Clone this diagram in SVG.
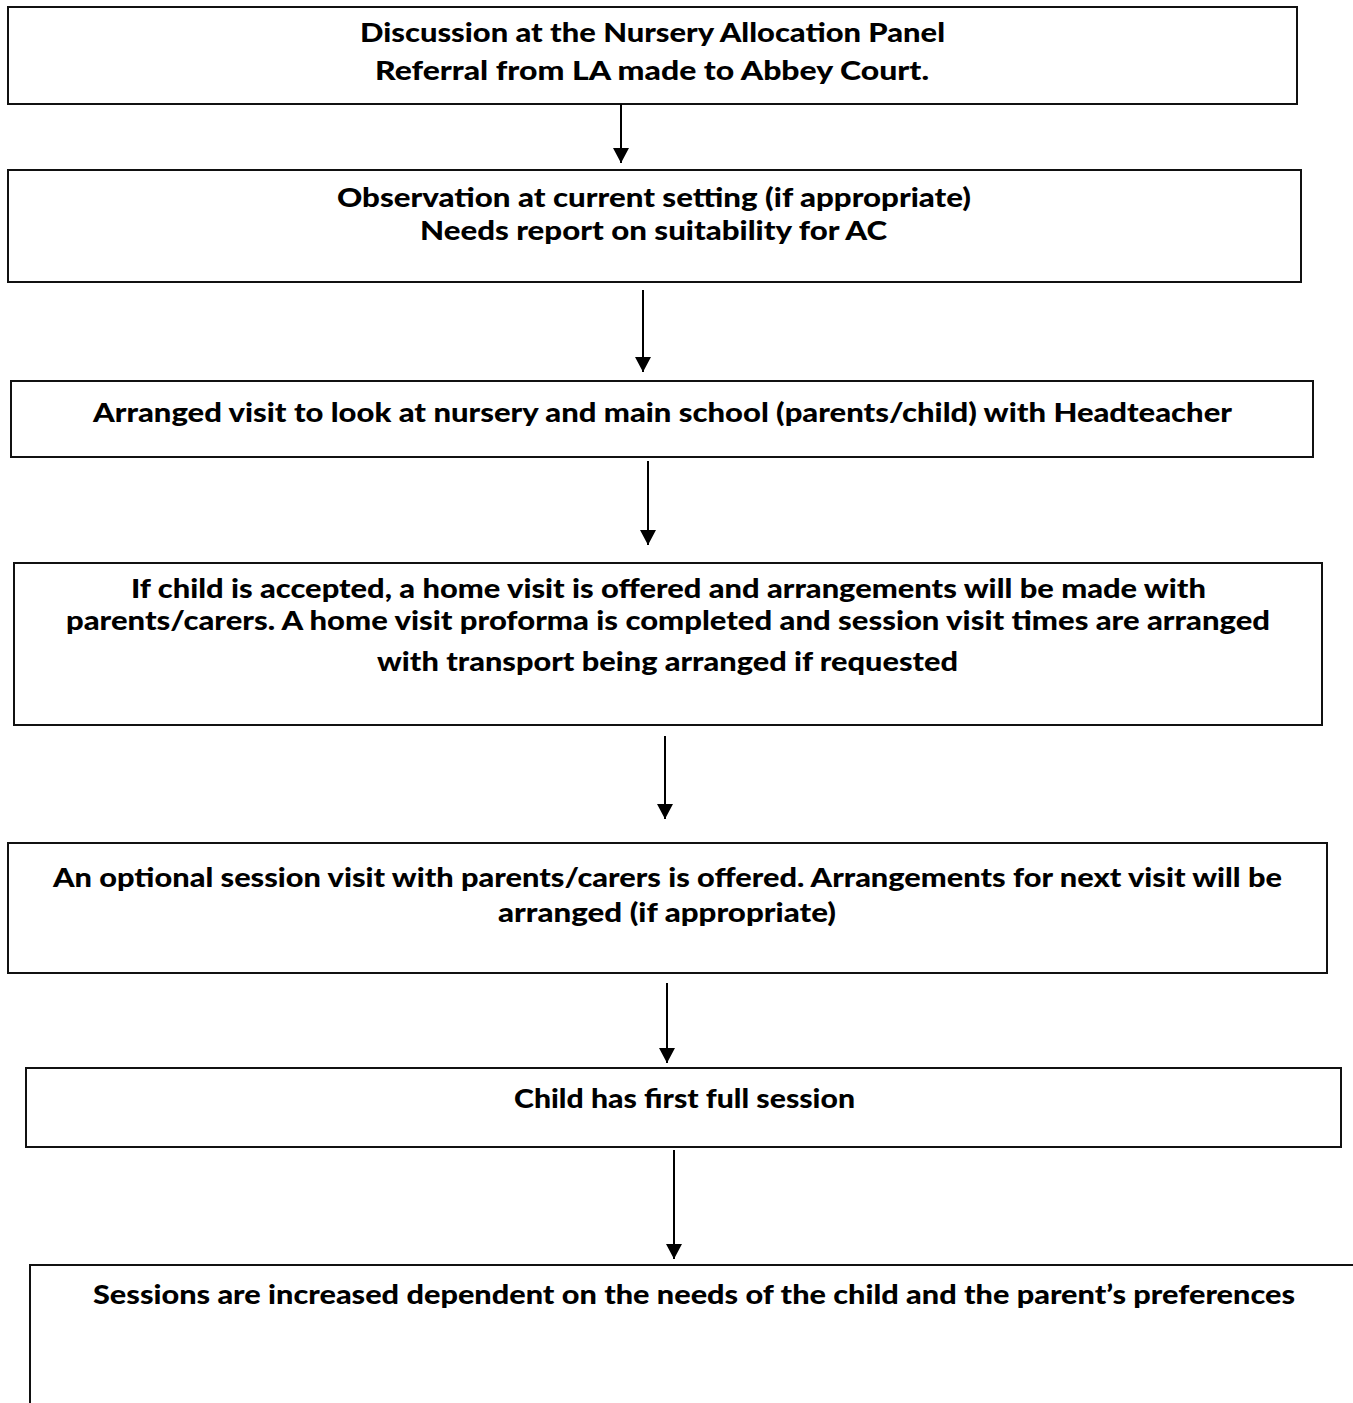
<svg xmlns="http://www.w3.org/2000/svg" width="1353" height="1403" viewBox="0 0 1353 1403">
<style>
.box{fill:#fff;stroke:#111;stroke-width:2}
.t{font-family:Lato,"Liberation Sans",sans-serif;font-weight:900;font-size:27px;fill:#000;text-anchor:middle}
.c{stroke:#000;stroke-width:2;fill:none;marker-end:url(#ah)}
</style>
<defs>
<marker id="ah" markerUnits="userSpaceOnUse" markerWidth="16" markerHeight="16" refX="15" refY="8" orient="auto">
<path d="M0,0 L15,8 L0,16 Z" fill="#000"/>
</marker>
</defs>
<rect width="1353" height="1403" fill="#fff"/>
<g id="node1">
<rect class="box" x="8" y="7" width="1289" height="97"/>
<text class="t" x="652.5" y="42" textLength="585" lengthAdjust="spacingAndGlyphs">Discussion at the Nursery Allocation Panel</text>
<text class="t" x="652" y="80" textLength="554" lengthAdjust="spacingAndGlyphs">Referral from LA made to Abbey Court.</text>
</g>
<g id="node2">
<rect class="box" x="8" y="170" width="1293" height="112"/>
<text class="t" x="654" y="207" textLength="634" lengthAdjust="spacingAndGlyphs">Observation at current setting (if appropriate)</text>
<text class="t" x="653.5" y="240" textLength="467" lengthAdjust="spacingAndGlyphs">Needs report on suitability for AC</text>
</g>
<g id="node3">
<rect class="box" x="11" y="381" width="1302" height="76"/>
<text class="t" x="662.5" y="422" textLength="1139" lengthAdjust="spacingAndGlyphs">Arranged visit to look at nursery and main school (parents/child) with Headteacher</text>
</g>
<g id="node4">
<rect class="box" x="14" y="563" width="1308" height="162"/>
<text class="t" x="668.5" y="598" textLength="1075" lengthAdjust="spacingAndGlyphs">If child is accepted, a home visit is offered and arrangements will be made with</text>
<text class="t" x="668" y="630" textLength="1204" lengthAdjust="spacingAndGlyphs">parents/carers. A home visit proforma is completed and session visit times are arranged</text>
<text class="t" x="667.5" y="671" textLength="581" lengthAdjust="spacingAndGlyphs">with transport being arranged if requested</text>
</g>
<g id="node5">
<rect class="box" x="8" y="843" width="1319" height="130"/>
<text class="t" x="667.5" y="887" textLength="1229" lengthAdjust="spacingAndGlyphs">An optional session visit with parents/carers is offered. Arrangements for next visit will be</text>
<text class="t" x="667" y="922" textLength="338" lengthAdjust="spacingAndGlyphs">arranged (if appropriate)</text>
</g>
<g id="node6">
<rect class="box" x="26" y="1068" width="1315" height="79"/>
<text class="t" x="684.5" y="1108" textLength="341" lengthAdjust="spacingAndGlyphs">Child has first full session</text>
</g>
<g id="node7">
<path d="M1354,1265 H30 V1404" fill="none" stroke="#111" stroke-width="2"/>
<text class="t" x="694" y="1304" textLength="1202" lengthAdjust="spacingAndGlyphs">Sessions are increased dependent on the needs of the child and the parent’s preferences</text>
</g>
<g id="connectors">
<line class="c" x1="621" y1="104" x2="621" y2="163"/>
<line class="c" x1="643" y1="290" x2="643" y2="372"/>
<line class="c" x1="648" y1="461" x2="648" y2="545"/>
<line class="c" x1="665" y1="736" x2="665" y2="819"/>
<line class="c" x1="667" y1="983" x2="667" y2="1063"/>
<line class="c" x1="674" y1="1150" x2="674" y2="1259"/>
</g>
</svg>
